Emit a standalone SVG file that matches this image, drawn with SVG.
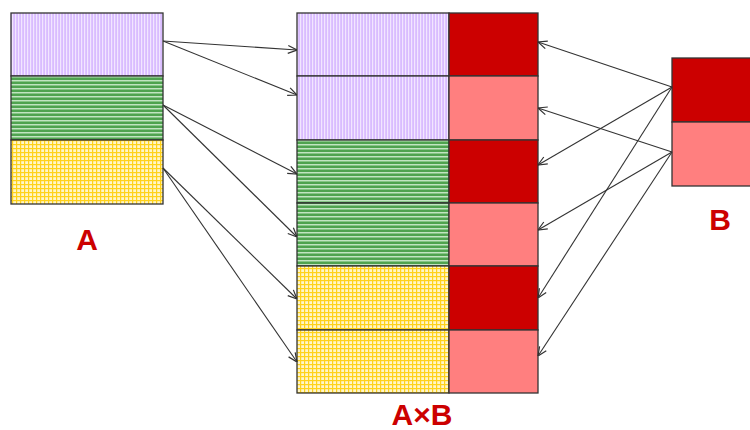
<svg xmlns="http://www.w3.org/2000/svg" width="750" height="430" viewBox="0 0 750 430">
<defs>
<pattern id="pPurple" width="3" height="4" patternUnits="userSpaceOnUse">
<rect width="3" height="4" fill="#d9bcff"/>
<rect x="0" width="1.2" height="4" fill="#f2e6ff"/>
</pattern>
<pattern id="pGreen" width="4" height="4" patternUnits="userSpaceOnUse">
<rect width="4" height="4" fill="#5cb05c"/>
<rect y="0" width="4" height="1.4" fill="#c2e4c2"/>
<rect y="2.6" width="4" height="0.8" fill="#3a913a"/>
</pattern>
<pattern id="pYellow" width="4" height="4" patternUnits="userSpaceOnUse">
<rect width="4" height="4" fill="#fff6c8"/>
<rect x="0" width="1.2" height="4" fill="#ffd21a"/>
<rect y="0" width="4" height="1.2" fill="#ffd21a"/>
</pattern>
<marker id="arr" viewBox="0 0 10 10" refX="10" refY="5" markerWidth="10" markerHeight="10" markerUnits="userSpaceOnUse" orient="auto">
<path d="M1,1 L10,5 L1,9" fill="none" stroke="#333" stroke-width="1.2"/>
</marker>
</defs>
<style>
.cell{stroke:#333;stroke-width:1.3}
.dark{fill:#cc0000}
.pink{fill:#ff7f7f}
.conn line{stroke:#333;stroke-width:1.1;marker-end:url(#arr)}
.lbl{font-family:"Liberation Sans",Arial,sans-serif;font-weight:bold;font-size:30px;fill:#cc0000;text-anchor:middle}
</style>
<g id="A">
<rect class="cell" x="11" y="13" width="152" height="63" fill="url(#pPurple)"/>
<rect class="cell" x="11" y="76" width="152" height="64" fill="url(#pGreen)"/>
<rect class="cell" x="11" y="140" width="152" height="64" fill="url(#pYellow)"/>
<text class="lbl" x="87" y="250">A</text>
</g>
<g id="AxB">
<rect class="cell" x="297" y="13" width="152" height="63" fill="url(#pPurple)"/>
<rect class="cell" x="297" y="76" width="152" height="64" fill="url(#pPurple)"/>
<rect class="cell" x="297" y="140" width="152" height="63" fill="url(#pGreen)"/>
<rect class="cell" x="297" y="203" width="152" height="63" fill="url(#pGreen)"/>
<rect class="cell" x="297" y="266" width="152" height="64" fill="url(#pYellow)"/>
<rect class="cell" x="297" y="330" width="152" height="63" fill="url(#pYellow)"/>
<rect class="cell dark" x="449" y="13" width="89" height="63"/>
<rect class="cell pink" x="449" y="76" width="89" height="64"/>
<rect class="cell dark" x="449" y="140" width="89" height="63"/>
<rect class="cell pink" x="449" y="203" width="89" height="63"/>
<rect class="cell dark" x="449" y="266" width="89" height="64"/>
<rect class="cell pink" x="449" y="330" width="89" height="63"/>
<text class="lbl" x="422" y="425">A×B</text>
</g>
<g id="B">
<rect class="cell dark" x="672" y="58" width="90" height="64"/>
<rect class="cell pink" x="672" y="122" width="90" height="64"/>
<text class="lbl" x="720" y="230">B</text>
</g>
<g id="connectors" class="conn">
<line x1="163" y1="41" x2="297" y2="50"/>
<line x1="163" y1="41" x2="297" y2="95"/>
<line x1="163" y1="105" x2="297" y2="174"/>
<line x1="163" y1="105" x2="297" y2="237"/>
<line x1="163" y1="168" x2="297" y2="299"/>
<line x1="163" y1="168" x2="297" y2="362"/>
<line x1="672" y1="87" x2="538" y2="42"/>
<line x1="672" y1="87" x2="538" y2="165"/>
<line x1="672" y1="87" x2="538" y2="298"/>
<line x1="672" y1="152" x2="538" y2="108"/>
<line x1="672" y1="152" x2="538" y2="230"/>
<line x1="672" y1="152" x2="538" y2="356"/>
</g>
</svg>
